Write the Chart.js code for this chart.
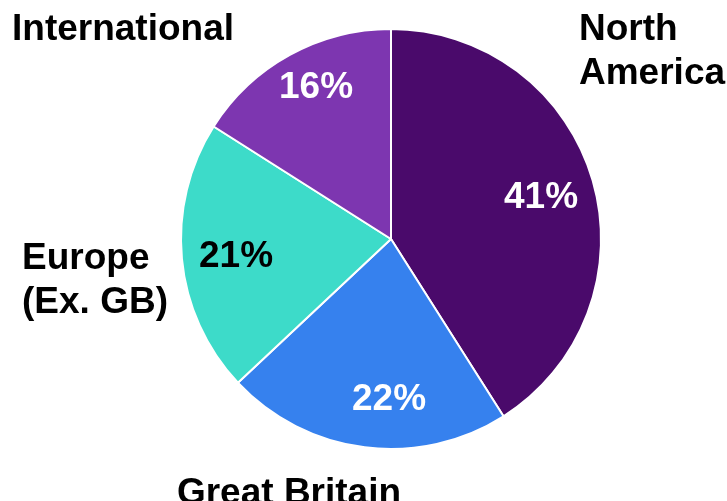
<!DOCTYPE html>
<html lang="en">
<head>
  <meta charset="UTF-8" />
  <title>Revenue by Region</title>
  <script src="https://cdn.jsdelivr.net/npm/chart.js"></script>
  <style>
    body {
      margin: 0;
      padding: 0;
      background: #fff;
    }

    canvas {
      display: block;
    }
  </style>
</head>
<body>
  <canvas id="regionPie" width="727" height="501"></canvas>

  <script>
    // regions, clockwise from 12 o'clock
    const regions = ['North America', 'Great Britain', 'Europe (Ex. GB)', 'International'];
    const shares = [41, 22, 21, 16];
    const sliceColors = ['#4a0a6b', '#3681ee', '#3ddbc9', '#7d36b0'];
    const pctColors = ['#fff', '#fff', '#000', '#fff'];

    // outer label lines (split as they are drawn)
    const regionLines = [['North', 'America'], ['Great Britain'], ['Europe', '(Ex. GB)'], ['International']];

    const FONT = 'bold 37px "Liberation Sans", Arial, sans-serif';
    const LINE_H = 44;

    // where each outer label sits, relative to the pie centre
    const labelSpots = [
      { dx: 188, dy: -199, align: 'left' },
      { dx: -102, dy: 265, align: 'center' },
      { dx: -369, dy: 30, align: 'left' },
      { dx: -379, dy: -199, align: 'left' }
    ];

    // centre of each percentage, relative to the pie centre
    const pctSpots = [
      { dx: 150, dy: -41 },
      { dx: -2, dy: 161 },
      { dx: -155, dy: 18 },
      { dx: -75, dy: -151 }
    ];

    const pieLabels = {
      id: 'pieLabels',
      afterDraw(chart) {
        const ctx = chart.ctx;
        const arcs = chart.getDatasetMeta(0).data;
        const total = shares.reduce((a, b) => a + b, 0);
        ctx.save();
        ctx.font = FONT;

        arcs.forEach((arc, i) => {
          const { x, y } = arc.getProps(['x', 'y'], true);

          // percentage inside the slice
          ctx.fillStyle = pctColors[i];
          ctx.textAlign = 'center';
          ctx.textBaseline = 'middle';
          ctx.fillText(Math.round(shares[i] / total * 100) + '%', x + pctSpots[i].dx, y + pctSpots[i].dy);

          // region name outside
          const spot = labelSpots[i];
          ctx.fillStyle = '#000';
          ctx.textAlign = spot.align;
          ctx.textBaseline = 'alphabetic';
          regionLines[i].forEach((line, k) => {
            ctx.fillText(line, x + spot.dx, y + spot.dy + k * LINE_H);
          });
        });
        ctx.restore();
      }
    };

    new Chart(document.getElementById('regionPie'), {
      type: 'pie',
      data: {
        labels: regions,
        datasets: [{
          data: shares,
          backgroundColor: sliceColors,
          borderColor: '#fff',
          borderWidth: 2
        }]
      },
      options: {
        responsive: false,
        animation: false,
        events: [],
        layout: {
          padding: { top: 28, bottom: 51, left: 180, right: 125 }
        },
        plugins: {
          legend: { display: false },
          tooltip: { enabled: false }
        }
      },
      plugins: [pieLabels]
    });
  </script>
</body>
</html>
